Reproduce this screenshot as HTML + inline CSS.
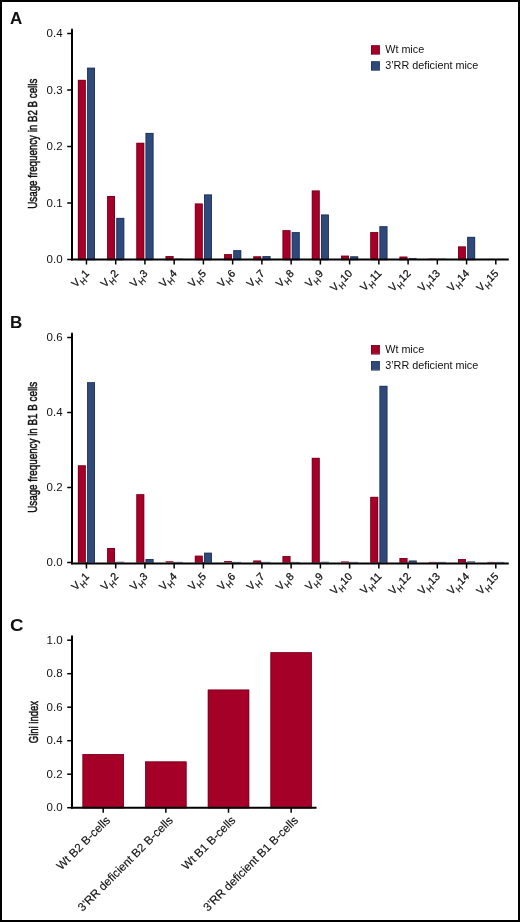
<!DOCTYPE html>
<html><head><meta charset="utf-8"><style>
html,body{margin:0;padding:0;background:#fff;}
body{width:520px;height:922px;overflow:hidden;}
svg{display:block;will-change:transform;}
text{font-family:"Liberation Sans", sans-serif;fill:#111;}
</style></head><body>
<svg width="520" height="922" viewBox="0 0 520 922">
<rect x="0" y="0" width="520" height="922" fill="#fff"/>
<rect x="77.90" y="79.89" width="7.85" height="179.61" fill="#a40028"/><rect x="78.30" y="80.29" width="7.05" height="179.61" fill="none" stroke="#6e001a" stroke-width="0.8" stroke-opacity="0.75"/>
<rect x="87.10" y="67.74" width="7.90" height="191.76" fill="#2e497a"/><rect x="87.50" y="68.14" width="7.10" height="191.76" fill="none" stroke="#1b2d4f" stroke-width="0.8" stroke-opacity="0.75"/>
<rect x="107.14" y="195.99" width="7.85" height="63.51" fill="#a40028"/><rect x="107.54" y="196.39" width="7.05" height="63.51" fill="none" stroke="#6e001a" stroke-width="0.8" stroke-opacity="0.75"/>
<rect x="116.34" y="217.92" width="7.90" height="41.58" fill="#2e497a"/><rect x="116.74" y="218.32" width="7.10" height="41.58" fill="none" stroke="#1b2d4f" stroke-width="0.8" stroke-opacity="0.75"/>
<rect x="136.38" y="142.83" width="7.85" height="116.67" fill="#a40028"/><rect x="136.78" y="143.23" width="7.05" height="116.67" fill="none" stroke="#6e001a" stroke-width="0.8" stroke-opacity="0.75"/>
<rect x="145.58" y="132.94" width="7.90" height="126.56" fill="#2e497a"/><rect x="145.98" y="133.34" width="7.10" height="126.56" fill="none" stroke="#1b2d4f" stroke-width="0.8" stroke-opacity="0.75"/>
<rect x="165.62" y="256.11" width="7.85" height="3.39" fill="#a40028"/><rect x="166.02" y="256.51" width="7.05" height="3.39" fill="none" stroke="#6e001a" stroke-width="0.8" stroke-opacity="0.75"/>
<rect x="174.82" y="258.65" width="7.90" height="0.85" fill="#2e497a"/>
<rect x="194.86" y="203.56" width="7.85" height="55.94" fill="#a40028"/><rect x="195.26" y="203.97" width="7.05" height="55.94" fill="none" stroke="#6e001a" stroke-width="0.8" stroke-opacity="0.75"/>
<rect x="204.06" y="194.52" width="7.90" height="64.98" fill="#2e497a"/><rect x="204.46" y="194.92" width="7.10" height="64.98" fill="none" stroke="#1b2d4f" stroke-width="0.8" stroke-opacity="0.75"/>
<rect x="224.10" y="254.19" width="7.85" height="5.31" fill="#a40028"/><rect x="224.50" y="254.59" width="7.05" height="5.31" fill="none" stroke="#6e001a" stroke-width="0.8" stroke-opacity="0.75"/>
<rect x="233.30" y="250.23" width="7.90" height="9.27" fill="#2e497a"/><rect x="233.70" y="250.63" width="7.10" height="9.27" fill="none" stroke="#1b2d4f" stroke-width="0.8" stroke-opacity="0.75"/>
<rect x="253.34" y="256.39" width="7.85" height="3.11" fill="#a40028"/><rect x="253.74" y="256.79" width="7.05" height="3.11" fill="none" stroke="#6e001a" stroke-width="0.8" stroke-opacity="0.75"/>
<rect x="262.54" y="256.11" width="7.90" height="3.39" fill="#2e497a"/><rect x="262.94" y="256.51" width="7.10" height="3.39" fill="none" stroke="#1b2d4f" stroke-width="0.8" stroke-opacity="0.75"/>
<rect x="282.58" y="230.23" width="7.85" height="29.27" fill="#a40028"/><rect x="282.98" y="230.63" width="7.05" height="29.27" fill="none" stroke="#6e001a" stroke-width="0.8" stroke-opacity="0.75"/>
<rect x="291.78" y="232.15" width="7.90" height="27.35" fill="#2e497a"/><rect x="292.18" y="232.55" width="7.10" height="27.35" fill="none" stroke="#1b2d4f" stroke-width="0.8" stroke-opacity="0.75"/>
<rect x="311.82" y="190.57" width="7.85" height="68.93" fill="#a40028"/><rect x="312.22" y="190.97" width="7.05" height="68.93" fill="none" stroke="#6e001a" stroke-width="0.8" stroke-opacity="0.75"/>
<rect x="321.02" y="214.58" width="7.90" height="44.92" fill="#2e497a"/><rect x="321.42" y="214.98" width="7.10" height="44.92" fill="none" stroke="#1b2d4f" stroke-width="0.8" stroke-opacity="0.75"/>
<rect x="341.06" y="255.71" width="7.85" height="3.79" fill="#a40028"/><rect x="341.46" y="256.11" width="7.05" height="3.79" fill="none" stroke="#6e001a" stroke-width="0.8" stroke-opacity="0.75"/>
<rect x="350.26" y="256.39" width="7.90" height="3.11" fill="#2e497a"/><rect x="350.66" y="256.79" width="7.10" height="3.11" fill="none" stroke="#1b2d4f" stroke-width="0.8" stroke-opacity="0.75"/>
<rect x="370.30" y="232.15" width="7.85" height="27.35" fill="#a40028"/><rect x="370.70" y="232.55" width="7.05" height="27.35" fill="none" stroke="#6e001a" stroke-width="0.8" stroke-opacity="0.75"/>
<rect x="379.50" y="226.28" width="7.90" height="33.22" fill="#2e497a"/><rect x="379.90" y="226.68" width="7.10" height="33.22" fill="none" stroke="#1b2d4f" stroke-width="0.8" stroke-opacity="0.75"/>
<rect x="399.54" y="256.68" width="7.85" height="2.83" fill="#a40028"/><rect x="399.94" y="257.07" width="7.05" height="2.83" fill="none" stroke="#6e001a" stroke-width="0.8" stroke-opacity="0.75"/>
<rect x="408.74" y="258.09" width="7.90" height="1.41" fill="#2e497a"/>
<rect x="428.78" y="258.65" width="7.85" height="0.85" fill="#a40028"/>
<rect x="437.98" y="258.65" width="7.90" height="0.85" fill="#2e497a"/>
<rect x="458.02" y="246.50" width="7.85" height="12.99" fill="#a40028"/><rect x="458.42" y="246.91" width="7.05" height="12.99" fill="none" stroke="#6e001a" stroke-width="0.8" stroke-opacity="0.75"/>
<rect x="467.22" y="236.90" width="7.90" height="22.60" fill="#2e497a"/><rect x="467.62" y="237.30" width="7.10" height="22.60" fill="none" stroke="#1b2d4f" stroke-width="0.8" stroke-opacity="0.75"/>
<rect x="487.26" y="258.90" width="7.85" height="0.60" fill="#a40028"/>
<rect x="496.46" y="258.90" width="7.90" height="0.60" fill="#2e497a"/>
<line x1="72.0" y1="29.50" x2="72.0" y2="259.50" stroke="#000" stroke-width="2" stroke-linecap="round"/>
<line x1="71.0" y1="259.50" x2="508.8" y2="259.50" stroke="#000" stroke-width="2"/>
<line x1="67.2" y1="259.50" x2="72.0" y2="259.50" stroke="#000" stroke-width="1.5"/>
<text x="62.60" y="263.00" font-size="11.5" text-anchor="end" font-weight="normal" >0.0</text>
<line x1="67.2" y1="203.00" x2="72.0" y2="203.00" stroke="#000" stroke-width="1.5"/>
<text x="62.60" y="206.50" font-size="11.5" text-anchor="end" font-weight="normal" >0.1</text>
<line x1="67.2" y1="146.50" x2="72.0" y2="146.50" stroke="#000" stroke-width="1.5"/>
<text x="62.60" y="150.00" font-size="11.5" text-anchor="end" font-weight="normal" >0.2</text>
<line x1="67.2" y1="90.00" x2="72.0" y2="90.00" stroke="#000" stroke-width="1.5"/>
<text x="62.60" y="93.50" font-size="11.5" text-anchor="end" font-weight="normal" >0.3</text>
<line x1="67.2" y1="33.50" x2="72.0" y2="33.50" stroke="#000" stroke-width="1.5"/>
<text x="62.60" y="37.00" font-size="11.5" text-anchor="end" font-weight="normal" >0.4</text>
<line x1="86.45" y1="259.50" x2="86.45" y2="264.50" stroke="#000" stroke-width="1.5"/>
<text transform="translate(89.75,274.00) rotate(-45)" font-size="10.7" text-anchor="end" stroke="#111" stroke-width="0.25">V<tspan font-size="8.5" dy="3.6" dx="0.2">H</tspan><tspan dy="-3.6" dx="0.5">1</tspan></text>
<line x1="115.69" y1="259.50" x2="115.69" y2="264.50" stroke="#000" stroke-width="1.5"/>
<text transform="translate(118.99,274.00) rotate(-45)" font-size="10.7" text-anchor="end" stroke="#111" stroke-width="0.25">V<tspan font-size="8.5" dy="3.6" dx="0.2">H</tspan><tspan dy="-3.6" dx="0.5">2</tspan></text>
<line x1="144.93" y1="259.50" x2="144.93" y2="264.50" stroke="#000" stroke-width="1.5"/>
<text transform="translate(148.23,274.00) rotate(-45)" font-size="10.7" text-anchor="end" stroke="#111" stroke-width="0.25">V<tspan font-size="8.5" dy="3.6" dx="0.2">H</tspan><tspan dy="-3.6" dx="0.5">3</tspan></text>
<line x1="174.17" y1="259.50" x2="174.17" y2="264.50" stroke="#000" stroke-width="1.5"/>
<text transform="translate(177.47,274.00) rotate(-45)" font-size="10.7" text-anchor="end" stroke="#111" stroke-width="0.25">V<tspan font-size="8.5" dy="3.6" dx="0.2">H</tspan><tspan dy="-3.6" dx="0.5">4</tspan></text>
<line x1="203.41" y1="259.50" x2="203.41" y2="264.50" stroke="#000" stroke-width="1.5"/>
<text transform="translate(206.71,274.00) rotate(-45)" font-size="10.7" text-anchor="end" stroke="#111" stroke-width="0.25">V<tspan font-size="8.5" dy="3.6" dx="0.2">H</tspan><tspan dy="-3.6" dx="0.5">5</tspan></text>
<line x1="232.65" y1="259.50" x2="232.65" y2="264.50" stroke="#000" stroke-width="1.5"/>
<text transform="translate(235.95,274.00) rotate(-45)" font-size="10.7" text-anchor="end" stroke="#111" stroke-width="0.25">V<tspan font-size="8.5" dy="3.6" dx="0.2">H</tspan><tspan dy="-3.6" dx="0.5">6</tspan></text>
<line x1="261.89" y1="259.50" x2="261.89" y2="264.50" stroke="#000" stroke-width="1.5"/>
<text transform="translate(265.19,274.00) rotate(-45)" font-size="10.7" text-anchor="end" stroke="#111" stroke-width="0.25">V<tspan font-size="8.5" dy="3.6" dx="0.2">H</tspan><tspan dy="-3.6" dx="0.5">7</tspan></text>
<line x1="291.13" y1="259.50" x2="291.13" y2="264.50" stroke="#000" stroke-width="1.5"/>
<text transform="translate(294.43,274.00) rotate(-45)" font-size="10.7" text-anchor="end" stroke="#111" stroke-width="0.25">V<tspan font-size="8.5" dy="3.6" dx="0.2">H</tspan><tspan dy="-3.6" dx="0.5">8</tspan></text>
<line x1="320.37" y1="259.50" x2="320.37" y2="264.50" stroke="#000" stroke-width="1.5"/>
<text transform="translate(323.67,274.00) rotate(-45)" font-size="10.7" text-anchor="end" stroke="#111" stroke-width="0.25">V<tspan font-size="8.5" dy="3.6" dx="0.2">H</tspan><tspan dy="-3.6" dx="0.5">9</tspan></text>
<line x1="349.61" y1="259.50" x2="349.61" y2="264.50" stroke="#000" stroke-width="1.5"/>
<text transform="translate(352.91,274.00) rotate(-45)" font-size="10.7" text-anchor="end" stroke="#111" stroke-width="0.25">V<tspan font-size="8.5" dy="3.6" dx="0.2">H</tspan><tspan dy="-3.6" dx="0.5">10</tspan></text>
<line x1="378.85" y1="259.50" x2="378.85" y2="264.50" stroke="#000" stroke-width="1.5"/>
<text transform="translate(382.15,274.00) rotate(-45)" font-size="10.7" text-anchor="end" stroke="#111" stroke-width="0.25">V<tspan font-size="8.5" dy="3.6" dx="0.2">H</tspan><tspan dy="-3.6" dx="0.5">11</tspan></text>
<line x1="408.09" y1="259.50" x2="408.09" y2="264.50" stroke="#000" stroke-width="1.5"/>
<text transform="translate(411.39,274.00) rotate(-45)" font-size="10.7" text-anchor="end" stroke="#111" stroke-width="0.25">V<tspan font-size="8.5" dy="3.6" dx="0.2">H</tspan><tspan dy="-3.6" dx="0.5">12</tspan></text>
<line x1="437.33" y1="259.50" x2="437.33" y2="264.50" stroke="#000" stroke-width="1.5"/>
<text transform="translate(440.63,274.00) rotate(-45)" font-size="10.7" text-anchor="end" stroke="#111" stroke-width="0.25">V<tspan font-size="8.5" dy="3.6" dx="0.2">H</tspan><tspan dy="-3.6" dx="0.5">13</tspan></text>
<line x1="466.57" y1="259.50" x2="466.57" y2="264.50" stroke="#000" stroke-width="1.5"/>
<text transform="translate(469.87,274.00) rotate(-45)" font-size="10.7" text-anchor="end" stroke="#111" stroke-width="0.25">V<tspan font-size="8.5" dy="3.6" dx="0.2">H</tspan><tspan dy="-3.6" dx="0.5">14</tspan></text>
<line x1="495.81" y1="259.50" x2="495.81" y2="264.50" stroke="#000" stroke-width="1.5"/>
<text transform="translate(499.11,274.00) rotate(-45)" font-size="10.7" text-anchor="end" stroke="#111" stroke-width="0.25">V<tspan font-size="8.5" dy="3.6" dx="0.2">H</tspan><tspan dy="-3.6" dx="0.5">15</tspan></text>
<rect x="371.00" y="45.30" width="8.80" height="8.80" fill="#a40028"/><rect x="371.40" y="45.70" width="8.00" height="8.80" fill="none" stroke="#6e001a" stroke-width="0.8" stroke-opacity="0.75"/>
<rect x="371.00" y="61.30" width="8.80" height="8.80" fill="#2e497a"/><rect x="371.40" y="61.70" width="8.00" height="8.80" fill="none" stroke="#1b2d4f" stroke-width="0.8" stroke-opacity="0.75"/>
<text x="385.20" y="52.90" font-size="10.8" text-anchor="start" font-weight="normal" >Wt mice</text>
<text x="385.20" y="69.10" font-size="10.8" text-anchor="start" font-weight="normal" >3’RR deficient mice</text>
<text transform="translate(37.0,143.70) rotate(-90)" font-size="13" text-anchor="middle" textLength="130.0" lengthAdjust="spacingAndGlyphs" stroke="#111" stroke-width="0.5">Usage frequency in B2 B cells</text>
<text x="10.00" y="23.80" font-size="17" text-anchor="start" font-weight="bold" >A</text>
<rect x="77.90" y="465.38" width="7.85" height="97.12" fill="#a40028"/><rect x="78.30" y="465.77" width="7.05" height="97.12" fill="none" stroke="#6e001a" stroke-width="0.8" stroke-opacity="0.75"/>
<rect x="87.10" y="382.27" width="7.90" height="180.23" fill="#2e497a"/><rect x="87.50" y="382.67" width="7.10" height="180.23" fill="none" stroke="#1b2d4f" stroke-width="0.8" stroke-opacity="0.75"/>
<rect x="107.14" y="548.02" width="7.85" height="14.48" fill="#a40028"/><rect x="107.54" y="548.42" width="7.05" height="14.48" fill="none" stroke="#6e001a" stroke-width="0.8" stroke-opacity="0.75"/>
<rect x="116.34" y="561.75" width="7.90" height="0.75" fill="#2e497a"/>
<rect x="136.38" y="494.25" width="7.85" height="68.25" fill="#a40028"/><rect x="136.78" y="494.65" width="7.05" height="68.25" fill="none" stroke="#6e001a" stroke-width="0.8" stroke-opacity="0.75"/>
<rect x="145.58" y="559.01" width="7.90" height="3.49" fill="#2e497a"/><rect x="145.98" y="559.41" width="7.10" height="3.49" fill="none" stroke="#1b2d4f" stroke-width="0.8" stroke-opacity="0.75"/>
<rect x="165.62" y="561.19" width="7.85" height="1.31" fill="#a40028"/>
<rect x="174.82" y="561.90" width="7.90" height="0.60" fill="#2e497a"/>
<rect x="194.86" y="555.75" width="7.85" height="6.75" fill="#a40028"/><rect x="195.26" y="556.15" width="7.05" height="6.75" fill="none" stroke="#6e001a" stroke-width="0.8" stroke-opacity="0.75"/>
<rect x="204.06" y="552.75" width="7.90" height="9.75" fill="#2e497a"/><rect x="204.46" y="553.15" width="7.10" height="9.75" fill="none" stroke="#1b2d4f" stroke-width="0.8" stroke-opacity="0.75"/>
<rect x="224.10" y="561.00" width="7.85" height="1.50" fill="#a40028"/>
<rect x="233.30" y="561.90" width="7.90" height="0.60" fill="#2e497a"/>
<rect x="253.34" y="560.62" width="7.85" height="1.88" fill="#a40028"/><rect x="253.74" y="561.02" width="7.05" height="1.88" fill="none" stroke="#6e001a" stroke-width="0.8" stroke-opacity="0.75"/>
<rect x="262.54" y="561.90" width="7.90" height="0.60" fill="#2e497a"/>
<rect x="282.58" y="556.12" width="7.85" height="6.38" fill="#a40028"/><rect x="282.98" y="556.52" width="7.05" height="6.38" fill="none" stroke="#6e001a" stroke-width="0.8" stroke-opacity="0.75"/>
<rect x="291.78" y="561.90" width="7.90" height="0.60" fill="#2e497a"/>
<rect x="311.82" y="457.88" width="7.85" height="104.63" fill="#a40028"/><rect x="312.22" y="458.27" width="7.05" height="104.63" fill="none" stroke="#6e001a" stroke-width="0.8" stroke-opacity="0.75"/>
<rect x="321.02" y="561.75" width="7.90" height="0.75" fill="#2e497a"/>
<rect x="341.06" y="561.38" width="7.85" height="1.12" fill="#a40028"/>
<rect x="350.26" y="561.90" width="7.90" height="0.60" fill="#2e497a"/>
<rect x="370.30" y="496.88" width="7.85" height="65.62" fill="#a40028"/><rect x="370.70" y="497.27" width="7.05" height="65.62" fill="none" stroke="#6e001a" stroke-width="0.8" stroke-opacity="0.75"/>
<rect x="379.50" y="385.88" width="7.90" height="176.62" fill="#2e497a"/><rect x="379.90" y="386.27" width="7.10" height="176.62" fill="none" stroke="#1b2d4f" stroke-width="0.8" stroke-opacity="0.75"/>
<rect x="399.54" y="558.00" width="7.85" height="4.50" fill="#a40028"/><rect x="399.94" y="558.40" width="7.05" height="4.50" fill="none" stroke="#6e001a" stroke-width="0.8" stroke-opacity="0.75"/>
<rect x="408.74" y="560.62" width="7.90" height="1.88" fill="#2e497a"/><rect x="409.14" y="561.02" width="7.10" height="1.88" fill="none" stroke="#1b2d4f" stroke-width="0.8" stroke-opacity="0.75"/>
<rect x="428.78" y="561.90" width="7.85" height="0.60" fill="#a40028"/>
<rect x="437.98" y="561.90" width="7.90" height="0.60" fill="#2e497a"/>
<rect x="458.02" y="559.12" width="7.85" height="3.37" fill="#a40028"/><rect x="458.42" y="559.52" width="7.05" height="3.37" fill="none" stroke="#6e001a" stroke-width="0.8" stroke-opacity="0.75"/>
<rect x="467.22" y="561.38" width="7.90" height="1.12" fill="#2e497a"/>
<rect x="487.26" y="561.90" width="7.85" height="0.60" fill="#a40028"/>
<rect x="496.46" y="561.90" width="7.90" height="0.60" fill="#2e497a"/>
<line x1="72.0" y1="333.50" x2="72.0" y2="563.50" stroke="#000" stroke-width="2" stroke-linecap="round"/>
<line x1="71.0" y1="563.50" x2="508.8" y2="563.50" stroke="#000" stroke-width="2"/>
<line x1="67.2" y1="562.50" x2="72.0" y2="562.50" stroke="#000" stroke-width="1.5"/>
<text x="62.60" y="566.00" font-size="11.5" text-anchor="end" font-weight="normal" >0.0</text>
<line x1="67.2" y1="487.50" x2="72.0" y2="487.50" stroke="#000" stroke-width="1.5"/>
<text x="62.60" y="491.00" font-size="11.5" text-anchor="end" font-weight="normal" >0.2</text>
<line x1="67.2" y1="412.50" x2="72.0" y2="412.50" stroke="#000" stroke-width="1.5"/>
<text x="62.60" y="416.00" font-size="11.5" text-anchor="end" font-weight="normal" >0.4</text>
<line x1="67.2" y1="337.50" x2="72.0" y2="337.50" stroke="#000" stroke-width="1.5"/>
<text x="62.60" y="341.00" font-size="11.5" text-anchor="end" font-weight="normal" >0.6</text>
<line x1="86.45" y1="562.50" x2="86.45" y2="568.50" stroke="#000" stroke-width="1.5"/>
<text transform="translate(89.75,577.00) rotate(-45)" font-size="10.7" text-anchor="end" stroke="#111" stroke-width="0.25">V<tspan font-size="8.5" dy="3.6" dx="0.2">H</tspan><tspan dy="-3.6" dx="0.5">1</tspan></text>
<line x1="115.69" y1="562.50" x2="115.69" y2="568.50" stroke="#000" stroke-width="1.5"/>
<text transform="translate(118.99,577.00) rotate(-45)" font-size="10.7" text-anchor="end" stroke="#111" stroke-width="0.25">V<tspan font-size="8.5" dy="3.6" dx="0.2">H</tspan><tspan dy="-3.6" dx="0.5">2</tspan></text>
<line x1="144.93" y1="562.50" x2="144.93" y2="568.50" stroke="#000" stroke-width="1.5"/>
<text transform="translate(148.23,577.00) rotate(-45)" font-size="10.7" text-anchor="end" stroke="#111" stroke-width="0.25">V<tspan font-size="8.5" dy="3.6" dx="0.2">H</tspan><tspan dy="-3.6" dx="0.5">3</tspan></text>
<line x1="174.17" y1="562.50" x2="174.17" y2="568.50" stroke="#000" stroke-width="1.5"/>
<text transform="translate(177.47,577.00) rotate(-45)" font-size="10.7" text-anchor="end" stroke="#111" stroke-width="0.25">V<tspan font-size="8.5" dy="3.6" dx="0.2">H</tspan><tspan dy="-3.6" dx="0.5">4</tspan></text>
<line x1="203.41" y1="562.50" x2="203.41" y2="568.50" stroke="#000" stroke-width="1.5"/>
<text transform="translate(206.71,577.00) rotate(-45)" font-size="10.7" text-anchor="end" stroke="#111" stroke-width="0.25">V<tspan font-size="8.5" dy="3.6" dx="0.2">H</tspan><tspan dy="-3.6" dx="0.5">5</tspan></text>
<line x1="232.65" y1="562.50" x2="232.65" y2="568.50" stroke="#000" stroke-width="1.5"/>
<text transform="translate(235.95,577.00) rotate(-45)" font-size="10.7" text-anchor="end" stroke="#111" stroke-width="0.25">V<tspan font-size="8.5" dy="3.6" dx="0.2">H</tspan><tspan dy="-3.6" dx="0.5">6</tspan></text>
<line x1="261.89" y1="562.50" x2="261.89" y2="568.50" stroke="#000" stroke-width="1.5"/>
<text transform="translate(265.19,577.00) rotate(-45)" font-size="10.7" text-anchor="end" stroke="#111" stroke-width="0.25">V<tspan font-size="8.5" dy="3.6" dx="0.2">H</tspan><tspan dy="-3.6" dx="0.5">7</tspan></text>
<line x1="291.13" y1="562.50" x2="291.13" y2="568.50" stroke="#000" stroke-width="1.5"/>
<text transform="translate(294.43,577.00) rotate(-45)" font-size="10.7" text-anchor="end" stroke="#111" stroke-width="0.25">V<tspan font-size="8.5" dy="3.6" dx="0.2">H</tspan><tspan dy="-3.6" dx="0.5">8</tspan></text>
<line x1="320.37" y1="562.50" x2="320.37" y2="568.50" stroke="#000" stroke-width="1.5"/>
<text transform="translate(323.67,577.00) rotate(-45)" font-size="10.7" text-anchor="end" stroke="#111" stroke-width="0.25">V<tspan font-size="8.5" dy="3.6" dx="0.2">H</tspan><tspan dy="-3.6" dx="0.5">9</tspan></text>
<line x1="349.61" y1="562.50" x2="349.61" y2="568.50" stroke="#000" stroke-width="1.5"/>
<text transform="translate(352.91,577.00) rotate(-45)" font-size="10.7" text-anchor="end" stroke="#111" stroke-width="0.25">V<tspan font-size="8.5" dy="3.6" dx="0.2">H</tspan><tspan dy="-3.6" dx="0.5">10</tspan></text>
<line x1="378.85" y1="562.50" x2="378.85" y2="568.50" stroke="#000" stroke-width="1.5"/>
<text transform="translate(382.15,577.00) rotate(-45)" font-size="10.7" text-anchor="end" stroke="#111" stroke-width="0.25">V<tspan font-size="8.5" dy="3.6" dx="0.2">H</tspan><tspan dy="-3.6" dx="0.5">11</tspan></text>
<line x1="408.09" y1="562.50" x2="408.09" y2="568.50" stroke="#000" stroke-width="1.5"/>
<text transform="translate(411.39,577.00) rotate(-45)" font-size="10.7" text-anchor="end" stroke="#111" stroke-width="0.25">V<tspan font-size="8.5" dy="3.6" dx="0.2">H</tspan><tspan dy="-3.6" dx="0.5">12</tspan></text>
<line x1="437.33" y1="562.50" x2="437.33" y2="568.50" stroke="#000" stroke-width="1.5"/>
<text transform="translate(440.63,577.00) rotate(-45)" font-size="10.7" text-anchor="end" stroke="#111" stroke-width="0.25">V<tspan font-size="8.5" dy="3.6" dx="0.2">H</tspan><tspan dy="-3.6" dx="0.5">13</tspan></text>
<line x1="466.57" y1="562.50" x2="466.57" y2="568.50" stroke="#000" stroke-width="1.5"/>
<text transform="translate(469.87,577.00) rotate(-45)" font-size="10.7" text-anchor="end" stroke="#111" stroke-width="0.25">V<tspan font-size="8.5" dy="3.6" dx="0.2">H</tspan><tspan dy="-3.6" dx="0.5">14</tspan></text>
<line x1="495.81" y1="562.50" x2="495.81" y2="568.50" stroke="#000" stroke-width="1.5"/>
<text transform="translate(499.11,577.00) rotate(-45)" font-size="10.7" text-anchor="end" stroke="#111" stroke-width="0.25">V<tspan font-size="8.5" dy="3.6" dx="0.2">H</tspan><tspan dy="-3.6" dx="0.5">15</tspan></text>
<rect x="371.00" y="345.10" width="8.80" height="8.80" fill="#a40028"/><rect x="371.40" y="345.50" width="8.00" height="8.80" fill="none" stroke="#6e001a" stroke-width="0.8" stroke-opacity="0.75"/>
<rect x="371.00" y="361.10" width="8.80" height="8.80" fill="#2e497a"/><rect x="371.40" y="361.50" width="8.00" height="8.80" fill="none" stroke="#1b2d4f" stroke-width="0.8" stroke-opacity="0.75"/>
<text x="385.20" y="352.70" font-size="10.8" text-anchor="start" font-weight="normal" >Wt mice</text>
<text x="385.20" y="368.90" font-size="10.8" text-anchor="start" font-weight="normal" >3’RR deficient mice</text>
<text transform="translate(37.0,447.30) rotate(-90)" font-size="13" text-anchor="middle" textLength="131.0" lengthAdjust="spacingAndGlyphs" stroke="#111" stroke-width="0.5">Usage frequency in B1 B cells</text>
<text x="10.00" y="327.70" font-size="17" text-anchor="start" font-weight="bold" >B</text>
<rect x="82.50" y="754.10" width="41.40" height="53.60" fill="#a40028"/><rect x="82.90" y="754.50" width="40.60" height="53.60" fill="none" stroke="#6e001a" stroke-width="0.8" stroke-opacity="0.75"/>
<rect x="145.15" y="761.47" width="41.40" height="46.23" fill="#a40028"/><rect x="145.55" y="761.87" width="40.60" height="46.23" fill="none" stroke="#6e001a" stroke-width="0.8" stroke-opacity="0.75"/>
<rect x="207.80" y="689.61" width="41.40" height="118.09" fill="#a40028"/><rect x="208.20" y="690.01" width="40.60" height="118.09" fill="none" stroke="#6e001a" stroke-width="0.8" stroke-opacity="0.75"/>
<rect x="270.45" y="652.26" width="41.40" height="155.44" fill="#a40028"/><rect x="270.85" y="652.66" width="40.60" height="155.44" fill="none" stroke="#6e001a" stroke-width="0.8" stroke-opacity="0.75"/>
<line x1="72.0" y1="636.20" x2="72.0" y2="807.70" stroke="#000" stroke-width="2" stroke-linecap="round"/>
<line x1="71.0" y1="807.70" x2="316.5" y2="807.70" stroke="#000" stroke-width="2"/>
<line x1="67.2" y1="807.70" x2="72.0" y2="807.70" stroke="#000" stroke-width="1.5"/>
<text x="62.60" y="811.20" font-size="11.5" text-anchor="end" font-weight="normal" >0.0</text>
<line x1="67.2" y1="774.20" x2="72.0" y2="774.20" stroke="#000" stroke-width="1.5"/>
<text x="62.60" y="777.70" font-size="11.5" text-anchor="end" font-weight="normal" >0.2</text>
<line x1="67.2" y1="740.70" x2="72.0" y2="740.70" stroke="#000" stroke-width="1.5"/>
<text x="62.60" y="744.20" font-size="11.5" text-anchor="end" font-weight="normal" >0.4</text>
<line x1="67.2" y1="707.20" x2="72.0" y2="707.20" stroke="#000" stroke-width="1.5"/>
<text x="62.60" y="710.70" font-size="11.5" text-anchor="end" font-weight="normal" >0.6</text>
<line x1="67.2" y1="673.70" x2="72.0" y2="673.70" stroke="#000" stroke-width="1.5"/>
<text x="62.60" y="677.20" font-size="11.5" text-anchor="end" font-weight="normal" >0.8</text>
<line x1="67.2" y1="640.20" x2="72.0" y2="640.20" stroke="#000" stroke-width="1.5"/>
<text x="62.60" y="643.70" font-size="11.5" text-anchor="end" font-weight="normal" >1.0</text>
<line x1="103.20" y1="807.70" x2="103.20" y2="812.70" stroke="#000" stroke-width="1.5"/>
<text transform="translate(110.90,821.00) rotate(-45)" font-size="11.7" text-anchor="end" stroke="#111" stroke-width="0.15">Wt B2 B-cells</text>
<line x1="165.85" y1="807.70" x2="165.85" y2="812.70" stroke="#000" stroke-width="1.5"/>
<text transform="translate(173.55,821.00) rotate(-45)" font-size="11.7" text-anchor="end" stroke="#111" stroke-width="0.15">3’RR deficient B2 B-cells</text>
<line x1="228.50" y1="807.70" x2="228.50" y2="812.70" stroke="#000" stroke-width="1.5"/>
<text transform="translate(236.20,821.00) rotate(-45)" font-size="11.7" text-anchor="end" stroke="#111" stroke-width="0.15">Wt B1 B-cells</text>
<line x1="291.15" y1="807.70" x2="291.15" y2="812.70" stroke="#000" stroke-width="1.5"/>
<text transform="translate(298.85,821.00) rotate(-45)" font-size="11.7" text-anchor="end" stroke="#111" stroke-width="0.15">3’RR deficient B1 B-cells</text>
<text transform="translate(38.0,722.1) rotate(-90)" font-size="13.6" text-anchor="middle" textLength="42.2" lengthAdjust="spacingAndGlyphs" stroke="#111" stroke-width="0.5">Gini index</text>
<text transform="translate(10,631.2) scale(1.1,1)" font-size="17" font-weight="bold">C</text>
<rect x="1" y="1" width="518" height="920" fill="none" stroke="#000" stroke-width="2"/>
</svg>
</body></html>
